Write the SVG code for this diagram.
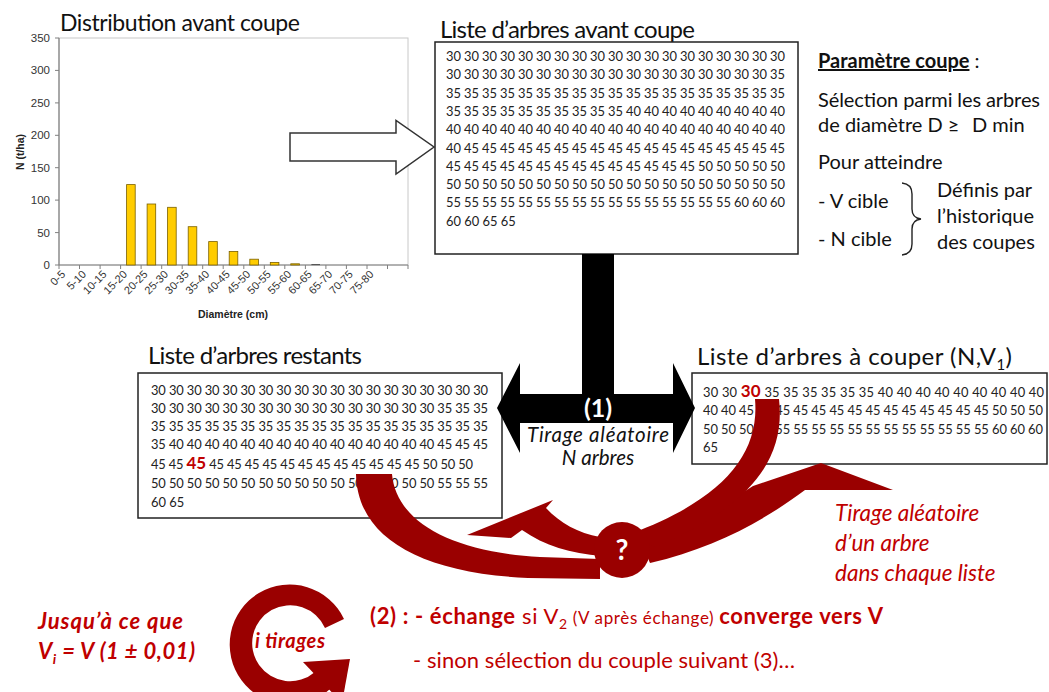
<svg xmlns="http://www.w3.org/2000/svg" width="1049" height="692" viewBox="0 0 1049 692">
<style>
.t{font-family:Lato,"Liberation Sans",sans-serif;fill:#111}
.ttl{font-size:24px}
.num{font-family:Lato,"Liberation Sans",sans-serif;font-size:12.9px;fill:#222}
.hl{font-weight:bold;font-size:17px;fill:#c00000}
.ax{font-family:"Liberation Sans",Arial,sans-serif;font-size:11.5px;fill:#333}
.xl{font-family:"Liberation Sans",Arial,sans-serif;font-size:11px;fill:#333}
.box{fill:#fff;stroke:#222;stroke-width:1.5}
.bar{fill:#ffcc00;stroke:#7a6000;stroke-width:0.8}
.red{fill:#9a0000}
.rt{font-family:Lato,"Liberation Sans",sans-serif;fill:#c00000}
.p{font-family:Lato,"Liberation Sans",sans-serif;font-size:20px;fill:#111}
</style>
<rect width="1049" height="692" fill="#fff"/>

<g id="chart">
<text class="t" font-size="23" x="60" y="31" textLength="240">Distribution avant coupe</text>
<rect x="59" y="38" width="349" height="227" fill="#fff" stroke="#c8c8c8" stroke-width="1"/>
<line x1="59" y1="38" x2="59" y2="265" stroke="#808080" stroke-width="1.2"/>
<line x1="59" y1="265" x2="408" y2="265" stroke="#808080" stroke-width="1.2"/>
<g stroke="#808080" stroke-width="1">
<line x1="55" y1="38" x2="59" y2="38"/><line x1="55" y1="70.4" x2="59" y2="70.4"/><line x1="55" y1="102.9" x2="59" y2="102.9"/><line x1="55" y1="135.3" x2="59" y2="135.3"/><line x1="55" y1="167.7" x2="59" y2="167.7"/><line x1="55" y1="200.1" x2="59" y2="200.1"/><line x1="55" y1="232.6" x2="59" y2="232.6"/><line x1="55" y1="265" x2="59" y2="265"/>
<line x1="59" y1="265" x2="59" y2="269"/><line x1="79.5" y1="265" x2="79.5" y2="269"/><line x1="100.1" y1="265" x2="100.1" y2="269"/><line x1="120.6" y1="265" x2="120.6" y2="269"/><line x1="141.1" y1="265" x2="141.1" y2="269"/><line x1="161.7" y1="265" x2="161.7" y2="269"/><line x1="182.2" y1="265" x2="182.2" y2="269"/><line x1="202.7" y1="265" x2="202.7" y2="269"/><line x1="223.2" y1="265" x2="223.2" y2="269"/><line x1="243.8" y1="265" x2="243.8" y2="269"/><line x1="264.3" y1="265" x2="264.3" y2="269"/><line x1="284.8" y1="265" x2="284.8" y2="269"/><line x1="305.4" y1="265" x2="305.4" y2="269"/><line x1="325.9" y1="265" x2="325.9" y2="269"/><line x1="346.4" y1="265" x2="346.4" y2="269"/><line x1="367" y1="265" x2="367" y2="269"/><line x1="387.5" y1="265" x2="387.5" y2="269"/><line x1="408" y1="265" x2="408" y2="269"/>
</g>
<g class="ax" text-anchor="end">
<text x="50" y="42">350</text><text x="50" y="74.4">300</text><text x="50" y="106.9">250</text><text x="50" y="139.3">200</text><text x="50" y="171.7">150</text><text x="50" y="204.1">100</text><text x="50" y="236.6">50</text><text x="50" y="269">0</text>
</g>
<rect class="bar" x="126.6" y="184.6" width="8.6" height="80.4"/>
<rect class="bar" x="147.1" y="204" width="8.6" height="61"/>
<rect class="bar" x="167.6" y="207.3" width="8.6" height="57.7"/>
<rect class="bar" x="188.2" y="226.7" width="8.6" height="38.3"/>
<rect class="bar" x="208.7" y="241.6" width="8.6" height="23.4"/>
<rect class="bar" x="229.2" y="251.4" width="8.6" height="13.6"/>
<rect class="bar" x="249.8" y="259.2" width="8.6" height="5.8"/>
<rect class="bar" x="270.3" y="262.4" width="8.6" height="2.6"/>
<rect class="bar" x="290.8" y="263.8" width="8.6" height="1.2"/>
<line x1="311.4" y1="264.6" x2="320" y2="264.6" stroke="#333" stroke-width="0.8"/>
<g class="xl" text-anchor="end">
<text x="66" y="275" transform="rotate(-45 66 275)">0-5</text>
<text x="86.8" y="275" transform="rotate(-45 86.8 275)">5-10</text>
<text x="107.3" y="275" transform="rotate(-45 107.3 275)">10-15</text>
<text x="127.9" y="275" transform="rotate(-45 127.9 275)">15-20</text>
<text x="148.4" y="275" transform="rotate(-45 148.4 275)">20-25</text>
<text x="168.9" y="275" transform="rotate(-45 168.9 275)">25-30</text>
<text x="189.5" y="275" transform="rotate(-45 189.5 275)">30-35</text>
<text x="210" y="275" transform="rotate(-45 210 275)">35-40</text>
<text x="230.5" y="275" transform="rotate(-45 230.5 275)">40-45</text>
<text x="251.1" y="275" transform="rotate(-45 251.1 275)">45-50</text>
<text x="271.6" y="275" transform="rotate(-45 271.6 275)">50-55</text>
<text x="292.1" y="275" transform="rotate(-45 292.1 275)">55-60</text>
<text x="312.7" y="275" transform="rotate(-45 312.7 275)">60-65</text>
<text x="333.2" y="275" transform="rotate(-45 333.2 275)">65-70</text>
<text x="353.7" y="275" transform="rotate(-45 353.7 275)">70-75</text>
<text x="374.3" y="275" transform="rotate(-45 374.3 275)">75-80</text>
</g>
<text x="233" y="318" text-anchor="middle" font-family="Liberation Sans,Arial,sans-serif" font-size="10.5" font-weight="bold" fill="#222">Diamètre (cm)</text>
<text x="0" y="0" transform="translate(24 152) rotate(-90)" text-anchor="middle" font-family="Liberation Sans,Arial,sans-serif" font-size="10.5" font-weight="bold" fill="#222">N (t/ha)</text>
</g>

<g id="hollow-arrow">
<polygon points="290,133 396,133 396,120.5 434,147 396,174 396,161 290,161" fill="#fff" stroke="#333" stroke-width="1.5"/>
</g>

<g id="list-avant">
<text class="t ttl" x="440" y="38" textLength="255">Liste d’arbres avant coupe</text>
<rect class="box" x="435" y="42" width="363" height="212"/>
<g class="num">
<text x="446" y="61" textLength="339">30 30 30 30 30 30 30 30 30 30 30 30 30 30 30 30 30 30 30</text>
<text x="446" y="79.3" textLength="339">30 30 30 30 30 30 30 30 30 30 30 30 30 30 30 30 30 30 35</text>
<text x="446" y="97.6" textLength="339">35 35 35 35 35 35 35 35 35 35 35 35 35 35 35 35 35 35 35</text>
<text x="446" y="115.9" textLength="339">35 35 35 35 35 35 35 35 35 35 40 40 40 40 40 40 40 40 40</text>
<text x="446" y="134.2" textLength="339">40 40 40 40 40 40 40 40 40 40 40 40 40 40 40 40 40 40 40</text>
<text x="446" y="152.5" textLength="339">40 45 45 45 45 45 45 45 45 45 45 45 45 45 45 45 45 45 45</text>
<text x="446" y="170.8" textLength="339">45 45 45 45 45 45 45 45 45 45 45 45 45 45 50 50 50 50 50</text>
<text x="446" y="189.1" textLength="339">50 50 50 50 50 50 50 50 50 50 50 50 50 50 50 50 50 50 50</text>
<text x="446" y="207.4" textLength="339">55 55 55 55 55 55 55 55 55 55 55 55 55 55 55 55 60 60 60</text>
<text x="446" y="225.7">60 60 65 65</text>
</g>
</g>

<g id="parametres">
<text class="p" x="818" y="68"><tspan font-weight="bold" text-decoration="underline">Paramètre coupe</tspan> :</text>
<text class="p" x="818" y="107" textLength="222">Sélection parmi les arbres</text>
<text class="p" x="818" y="132">de diamètre D ≥<tspan x="972">D min</tspan></text>
<text class="p" x="818" y="169">Pour atteindre</text>
<text class="p" x="818" y="208">- V cible</text>
<text class="p" x="818" y="246">- N cible</text>
<path d="M 902,183 Q 912,184 912,194 L 912,209 Q 912,218 921,219 Q 912,220 912,229 L 912,244 Q 912,254 902,255" fill="none" stroke="#222" stroke-width="1.4"/>
<text class="p" x="937" y="197">Définis par</text>
<text class="p" x="937" y="223">l’historique</text>
<text class="p" x="937" y="249">des coupes</text>
</g>

<g id="list-restants">
<text class="t ttl" x="148" y="364" textLength="214">Liste d’arbres restants</text>
<rect class="box" x="138" y="373" width="364" height="145"/>
<g class="num">
<text x="151" y="394.5" textLength="337">30 30 30 30 30 30 30 30 30 30 30 30 30 30 30 30 30 30 30</text>
<text x="151" y="413" textLength="337">30 30 30 30 30 30 30 30 30 30 30 30 30 30 30 30 35 35 35</text>
<text x="151" y="431" textLength="337">35 35 35 35 35 35 35 35 35 35 35 35 35 35 35 35 35 35 35</text>
<text x="151" y="449" textLength="337">35 40 40 40 40 40 40 40 40 40 40 40 40 40 40 40 45 45 45</text>
<text x="151" y="469" textLength="322">45 45 <tspan class="hl">45</tspan> 45 45 45 45 45 45 45 45 45 45 45 45 50 50 50</text>
<text x="151" y="488" textLength="337">50 50 50 50 50 50 50 50 50 50 50 50 50 50 50 50 55 55 55</text>
<text x="151" y="507">60 65</text>
</g>
</g>

<g id="list-couper">
<text class="t ttl" x="697" y="365" textLength="315">Liste d’arbres à couper (N,V<tspan font-size="15" dy="5">1</tspan><tspan dy="-5">)</tspan></text>
<rect class="box" x="692" y="373" width="355" height="91"/>
<g class="num">
<text x="703" y="396.5" textLength="341">30 30 <tspan class="hl">30</tspan> 35 35 35 35 35 35 40 40 40 40 40 40 40 40 40</text>
<text x="703" y="415" textLength="340">40 40 45 45 45 45 45 45 45 45 45 45 45 45 45 45 50 50 50</text>
<text x="703" y="433.5" textLength="340">50 50 50 55 55 55 55 55 55 55 55 55 55 55 55 55 60 60 60</text>
<text x="703" y="452">65</text>
</g>
</g>

<g id="tirage-1">
<polygon points="582,254 614,254 614,394 673,394 673,363 695,408 673,453 673,423 520,423 520,453 497,408 520,363 520,394 582,394" fill="#000"/>
<text x="598" y="417" text-anchor="middle" font-family="Lato,'Liberation Sans',sans-serif" font-size="25" font-weight="bold" fill="#fff">(1)</text>
<text x="598" y="442" text-anchor="middle" font-family="Lato,'Liberation Sans',sans-serif" font-size="20.5" font-style="italic" fill="#111" textLength="142">Tirage aléatoire</text>
<text x="598" y="465" text-anchor="middle" font-family="Lato,'Liberation Sans',sans-serif" font-size="20.5" font-style="italic" fill="#111">N arbres</text>
</g>

<g id="connectors">
<path class="red" d="M 356,474 L 392,474 C 396,522 452,552 540,557 L 600,559 L 600,579 L 528,578 C 418,573 357,536 356,474 Z"/>
<path class="red" d="M 640,540 C 690,525 728,502 753,486 L 821,463 L 893,490 L 805,490 C 765,520 715,548 650,563 Z"/>
<path class="red" d="M 755,399 L 779,399 C 785,452 760,503 655,547 L 630,534 C 722,500 760,455 755,399 Z"/>
<path class="red" d="M 600,537 C 578,533 560,523 546,508 L 553,500 L 467,535 L 511,538 L 522,530 C 545,546 570,553 602,556 Z"/>
</g>

<g id="exchange-node">
<circle class="red" cx="622" cy="550" r="28"/>
<text x="622" y="560" text-anchor="middle" font-family="Lato,'Liberation Sans',sans-serif" font-size="28" font-weight="bold" fill="#fff">?</text>
</g>

<g id="note-tirage">
<text class="rt" font-size="22.5" font-style="italic" x="835" y="521">Tirage aléatoire</text>
<text class="rt" font-size="22.5" font-style="italic" x="835" y="551">d’un arbre</text>
<text class="rt" font-size="22.5" font-style="italic" x="835" y="581">dans chaque liste</text>
</g>

<g id="condition">
<text class="rt" font-size="22" font-style="italic" font-weight="bold" x="38" y="629" textLength="145">Jusqu’à ce que</text>
<text class="rt" font-size="22" font-style="italic" font-weight="bold" x="38" y="659" textLength="157">V<tspan font-size="14" dy="5">i</tspan><tspan dy="-5"> = V (1 ± 0,01)</tspan></text>
</g>

<g id="loop">
<path class="red" d="M 344,619 A 60 60 0 1 0 330,689 L 315,672 A 38 38 0 1 1 325,628 Z"/>
<polygon class="red" points="303,662 350,659 342,703"/>
<text class="rt" font-size="20" font-style="italic" font-weight="bold" x="290" y="648" text-anchor="middle" textLength="70">i tirages</text>
</g>

<g id="regle">
<text class="rt" font-size="22" x="370" y="624" textLength="513"><tspan font-weight="bold">(2) : - échange</tspan> si V<tspan font-size="14" dy="5">2</tspan><tspan dy="-5" font-size="17"> (V après échange) </tspan><tspan font-weight="bold">converge vers V</tspan></text>
<text class="rt" font-size="22" x="413" y="668" textLength="382">- sinon sélection du couple suivant (3)…</text>
</g>
</svg>
